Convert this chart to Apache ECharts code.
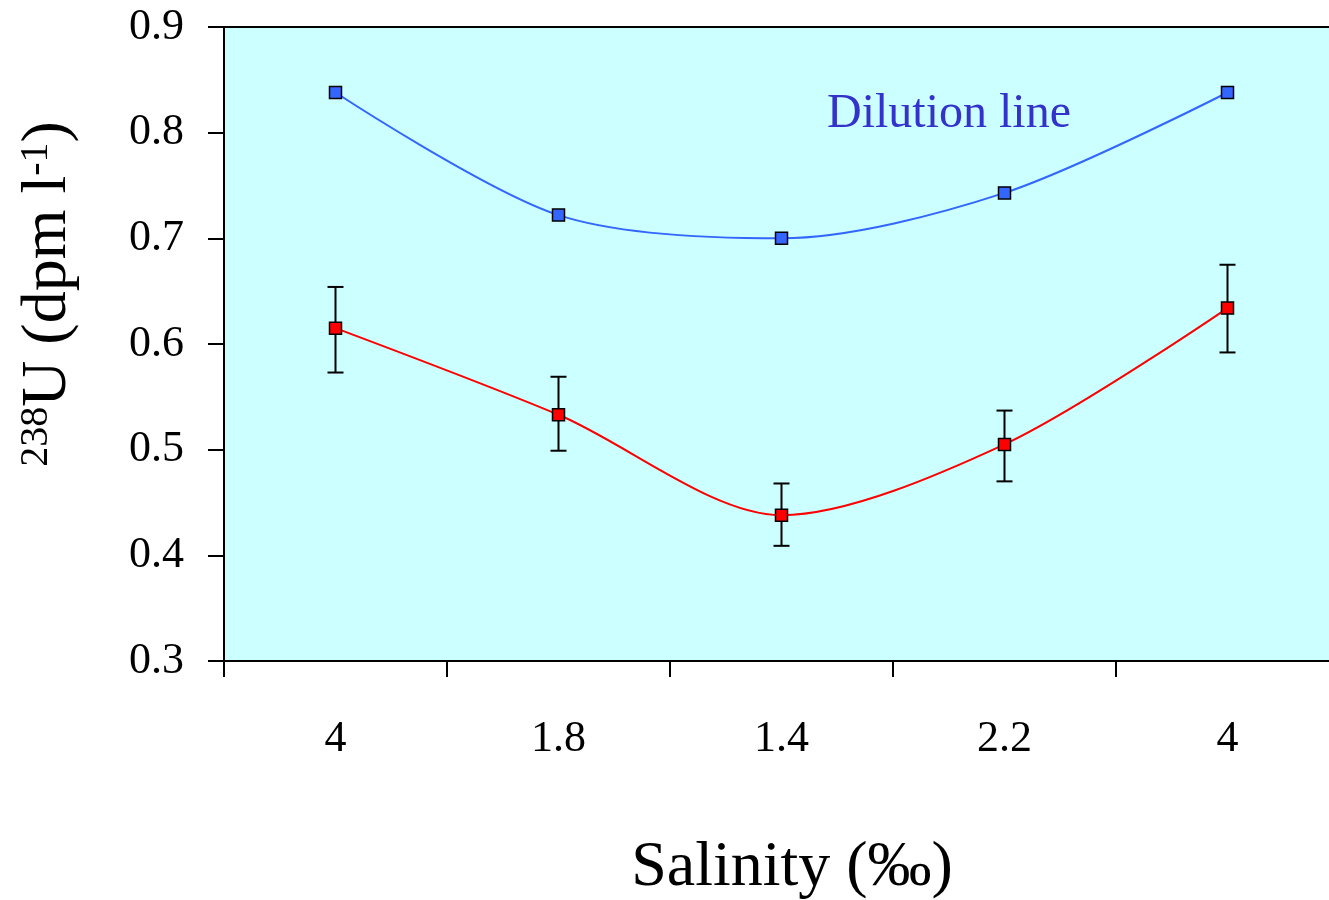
<!DOCTYPE html>
<html>
<head>
<meta charset="utf-8">
<script src="https://cdn.jsdelivr.net/npm/echarts@6/dist/echarts.min.js"></script>
<style>
  html, body { margin: 0; padding: 0; background: #fff; }
  #chart { width: 1329px; height: 900px; }
</style>
</head>
<body>
<div id="chart"></div>
<script>
    // salinity categories along the transect
    const salinity = ['4', '1.8', '1.4', '2.2', '4'];
    const yTicks = [0.3, 0.4, 0.5, 0.6, 0.7, 0.8, 0.9];

    // conservative mixing (dilution line)
    const dilution = [0.838, 0.722, 0.700, 0.743, 0.838];
    // measured 238U
    const measured = [0.615, 0.533, 0.438, 0.505, 0.634];
    const errLow = [0.573, 0.499, 0.409, 0.470, 0.592];
    const errHigh = [0.654, 0.569, 0.468, 0.537, 0.675];

    const serif = 'Liberation Serif';

    const chart = echarts.init(document.getElementById('chart'));

    const option = {
        animation: false,
        grid: {
            left: 224,
            top: 27,
            width: 1115,
            height: 634,
            outerBoundsMode: 'none',
            containLabel: false,
            show: true,
            backgroundColor: '#ccffff',
            borderColor: '#000',
            borderWidth: 2,
        },
        xAxis: {
            type: 'category',
            data: salinity,
            boundaryGap: true,
            axisLine: { lineStyle: { color: '#000', width: 2 } },
            axisTick: { show: true, length: 16, lineStyle: { color: '#000', width: 2 } },
            axisLabel: { color: '#000', fontFamily: serif, fontSize: 44, margin: 56 },
        },
        yAxis: {
            type: 'value',
            min: yTicks[0],
            max: yTicks[yTicks.length - 1],
            interval: 0.1,
            splitLine: { show: false },
            axisLine: { show: true, lineStyle: { color: '#000', width: 2 } },
            axisTick: { show: true, length: 16, lineStyle: { color: '#000', width: 2 } },
            axisLabel: {
                color: '#000', fontFamily: serif, fontSize: 44, margin: 40,
                formatter: v => v.toFixed(1),
            },
        },
        graphic: [
            {
                type: 'text',
                left: 827,
                top: 90,
                style: { text: 'Dilution line', fill: '#3333cc', font: '48px "Liberation Serif"' },
            },
            {
                type: 'text',
                x: 792,
                y: 868,
                style: {
                    text: 'Salinity (‰)', fill: '#000', font: '64px "Liberation Serif"',
                    align: 'center', verticalAlign: 'middle',
                },
            },
            {
                type: 'text',
                x: 48,
                y: 294,
                rotation: Math.PI / 2,
                style: {
                    text: '{sup|238}{b|U (dpm l}{sup|-1}{b|)}',
                    align: 'center', verticalAlign: 'middle',
                    rich: {
                        b: { fontFamily: serif, fontSize: 64, fill: '#000' },
                        sup: { fontFamily: serif, fontSize: 40, fill: '#000', padding: [0, 0, 24, 0] },
                    },
                },
            },
        ],
        series: [
            {
                name: 'Dilution line',
                type: 'line',
                data: dilution,
                smooth: 0.3,
                symbol: 'rect',
                symbolSize: 12,
                lineStyle: { color: '#3366ff', width: 2 },
                itemStyle: { color: '#3366ff', borderColor: '#000', borderWidth: 1.5 },
                z: 3,
            },
            {
                name: 'error',
                type: 'custom',
                data: measured.map((v, i) => [i, errLow[i], errHigh[i]]),
                renderItem: (params, api) => {
                    const lo = api.coord([api.value(0), api.value(1)]);
                    const hi = api.coord([api.value(0), api.value(2)]);
                    const half = 8;
                    const style = { stroke: '#000', lineWidth: 2 };
                    return {
                        type: 'group',
                        children: [
                            { type: 'line', shape: { x1: lo[0], y1: lo[1], x2: hi[0], y2: hi[1] }, style },
                            { type: 'line', shape: { x1: lo[0] - half, y1: lo[1], x2: lo[0] + half, y2: lo[1] }, style },
                            { type: 'line', shape: { x1: hi[0] - half, y1: hi[1], x2: hi[0] + half, y2: hi[1] }, style },
                        ],
                    };
                },
                z: 2,
            },
            {
                name: '238U',
                type: 'line',
                data: measured,
                smooth: 0.3,
                symbol: 'rect',
                symbolSize: 12,
                lineStyle: { color: '#ff0000', width: 2 },
                itemStyle: { color: '#ff0000', borderColor: '#000', borderWidth: 1.5 },
                z: 3,
            },
        ],
    };

    chart.setOption(option);
</script>
</body>
</html>
